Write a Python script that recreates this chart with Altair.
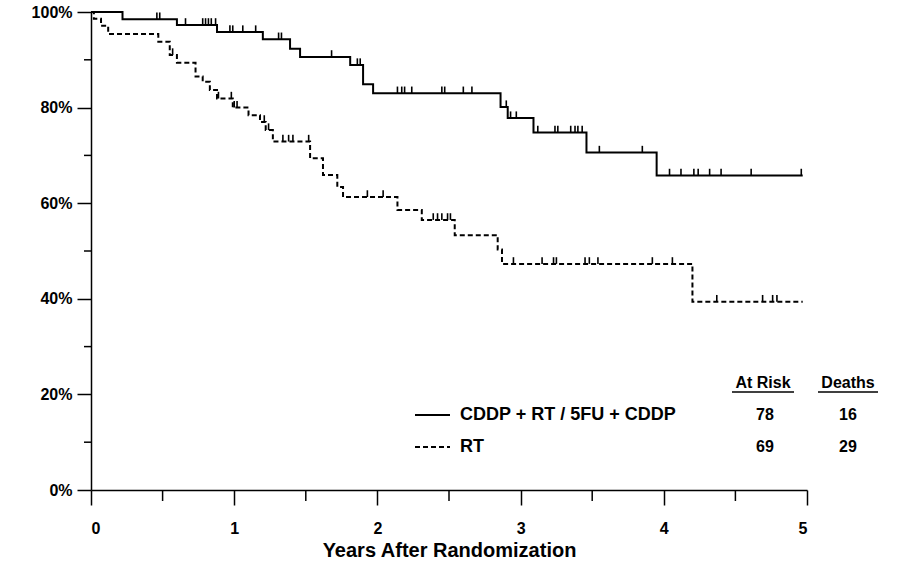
import altair as alt
import pandas as pd

# ---- Data ----
# Arm A: CDDP + RT / 5FU + CDDP  (step times in years, survival %)
a_t = [0.00, 0.22, 0.60, 0.88, 1.20, 1.39, 1.46, 1.81, 1.90, 1.97, 2.86, 2.91, 3.09, 3.46, 3.95, 4.97]
a_s = [100.0, 98.5, 97.3, 95.8, 94.3, 92.3, 90.6, 88.9, 84.9, 83.0, 80.1, 77.8, 74.8, 70.6, 65.8, 65.8]
a_cens = [0.46, 0.48, 0.66, 0.78, 0.80, 0.82, 0.84, 0.87, 0.97, 0.99, 1.06, 1.15, 1.31, 1.33,
          1.68, 1.86, 1.88, 2.14, 2.17, 2.19, 2.24, 2.45, 2.47, 2.60, 2.66, 2.90, 2.93, 2.97,
          3.12, 3.24, 3.26, 3.35, 3.38, 3.40, 3.43, 3.55, 3.85, 4.04, 4.12, 4.21, 4.24, 4.32,
          4.40, 4.61, 4.96]

# Arm B: RT
b_t = [0.00, 0.02, 0.07, 0.12, 0.47, 0.55, 0.60, 0.73, 0.78, 0.83, 0.88, 0.99, 1.10, 1.18, 1.22,
       1.27, 1.53, 1.62, 1.72, 1.76, 2.14, 2.31, 2.54, 2.84, 2.87, 4.20, 4.97]
b_s = [100.0, 98.6, 97.1, 95.4, 93.8, 91.0, 89.4, 86.5, 85.4, 83.7, 81.9, 80.0, 78.4, 77.0, 75.3,
       72.9, 69.4, 65.9, 63.4, 61.3, 58.6, 56.5, 53.3, 50.3, 47.3, 39.4, 39.4]
b_cens = [0.57, 0.89, 0.98, 1.00, 1.02, 1.21, 1.24, 1.34, 1.38, 1.41, 1.52, 1.93, 2.04, 2.39,
          2.42, 2.45, 2.49, 2.51, 2.95, 3.15, 3.23, 3.25, 3.45, 3.48, 3.54, 3.92, 4.06, 4.37,
          4.69, 4.76, 4.79]

arm_labels = ["CDDP + RT / 5FU + CDDP", "RT"]
at_risk = ["78", "69"]
deaths = ["16", "29"]
header_labels = ["At Risk", "Deaths"]

x_major = [0, 1, 2, 3, 4, 5]
x_minor = [0.5, 1.5, 2.5, 3.5, 4.5]
y_major = [0, 0.2, 0.4, 0.6, 0.8, 1.0]
y_minor = [0.1, 0.3, 0.5, 0.7, 0.9]
x_title = "Years After Randomization"


def surv_at(ts, ss, t):
    v = ss[0]
    for ti, si in zip(ts, ss):
        if ti <= t:
            v = si
    return v


curve_a = pd.DataFrame({"t": a_t, "S": [s / 100 for s in a_s]})
curve_b = pd.DataFrame({"t": b_t, "S": [s / 100 for s in b_s]})
cens_a = pd.DataFrame({"t": a_cens, "S": [surv_at(a_t, a_s, t) / 100 for t in a_cens]})
cens_b = pd.DataFrame({"t": b_cens, "S": [surv_at(b_t, b_s, t) / 100 for t in b_cens]})

FONT = "Liberation Sans"
xs = alt.Scale(domain=[0, 5], nice=False, zero=False)
ys = alt.Scale(domain=[0, 1], nice=False)

X = alt.X("t:Q", scale=xs,
          axis=alt.Axis(values=x_major, format="d", title=x_title, grid=False,
                        tickSize=15, tickWidth=1.5, tickColor="black",
                        domainColor="black", domainWidth=1.5,
                        labelFont=FONT, labelFontSize=16, labelFontWeight="bold",
                        labelColor="black", labelPadding=15,
                        titleFont=FONT, titleFontSize=20, titleFontWeight="bold",
                        titleColor="black", titlePadding=4))
Y = alt.Y("S:Q", scale=ys,
          axis=alt.Axis(values=y_major, format=".0%", title=None, grid=False,
                        tickSize=14, tickWidth=1.5, tickColor="black",
                        domainColor="black", domainWidth=1.5,
                        labelFont=FONT, labelFontSize=16, labelFontWeight="bold",
                        labelColor="black", labelPadding=5))

line_a = alt.Chart(curve_a).mark_line(interpolate="step-after", color="black", strokeWidth=2).encode(x=X, y=Y)
line_b = alt.Chart(curve_b).mark_line(interpolate="step-after", color="black", strokeWidth=2,
                                      strokeDash=[5, 3]).encode(x=X, y=Y)

tick_shape = "M0,-1L0,0"
ticks_a = alt.Chart(cens_a).mark_point(shape=tick_shape, size=180, filled=False, color="black",
                                       strokeWidth=1.6, opacity=1).encode(
    x=alt.X("t:Q", scale=xs), y=alt.Y("S:Q", scale=ys))
ticks_b = alt.Chart(cens_b).mark_point(shape=tick_shape, size=180, filled=False, color="black",
                                       strokeWidth=1.6, opacity=1).encode(
    x=alt.X("t:Q", scale=xs), y=alt.Y("S:Q", scale=ys))

minor_y = alt.Chart(pd.DataFrame({"v": y_minor})).mark_rule(color="black", strokeWidth=1.5).encode(
    y=alt.Y("v:Q", scale=ys), x=alt.value(-7), x2=alt.value(0))
minor_x = alt.Chart(pd.DataFrame({"v": x_minor})).mark_rule(color="black", strokeWidth=1.5).encode(
    x=alt.X("v:Q", scale=xs), y=alt.value(478), y2=alt.value(489))

# Legend (manual, positions in plot pixels; plot origin at (91,12))
leg_df = pd.DataFrame({"label": arm_labels, "risk": at_risk, "death": deaths,
                       "row": [0, 1]})
row_y = {0: 403, 1: 435}
leg_line_a = alt.Chart(leg_df.iloc[[0]]).mark_rule(color="black", strokeWidth=2).encode(
    x=alt.value(324), x2=alt.value(359), y=alt.value(row_y[0]))
leg_line_b = alt.Chart(leg_df.iloc[[1]]).mark_rule(color="black", strokeWidth=2, strokeDash=[5, 3]).encode(
    x=alt.value(324), x2=alt.value(359), y=alt.value(row_y[1]))

leg_text_a = alt.Chart(leg_df.iloc[[0]]).mark_text(align="left", baseline="middle", font=FONT,
                                                   fontSize=18, fontWeight="bold", color="black").encode(
    text="label:N", x=alt.value(369), y=alt.value(row_y[0]))
leg_text_b = alt.Chart(leg_df.iloc[[1]]).mark_text(align="left", baseline="middle", font=FONT,
                                                   fontSize=18, fontWeight="bold", color="black").encode(
    text="label:N", x=alt.value(369), y=alt.value(row_y[1]))

num_layers = []
for i in range(2):
    sub = leg_df.iloc[[i]]
    num_layers.append(alt.Chart(sub).mark_text(align="center", baseline="middle", font=FONT,
                                               fontSize=16, fontWeight="bold", color="black").encode(
        text="risk:N", x=alt.value(674), y=alt.value(row_y[i])))
    num_layers.append(alt.Chart(sub).mark_text(align="center", baseline="middle", font=FONT,
                                               fontSize=16, fontWeight="bold", color="black").encode(
        text="death:N", x=alt.value(757), y=alt.value(row_y[i])))

hdr_df = pd.DataFrame({"h": header_labels})
hdr_x = [672, 757]
hdr_w = [62, 60]
hdr_layers = []
for i in range(2):
    sub = hdr_df.iloc[[i]]
    hdr_layers.append(alt.Chart(sub).mark_text(align="center", baseline="middle", font=FONT,
                                               fontSize=16, fontWeight="bold", color="black").encode(
        text="h:N", x=alt.value(hdr_x[i]), y=alt.value(371)))
    hdr_layers.append(alt.Chart(sub).mark_rule(color="black", strokeWidth=1.5).encode(
        x=alt.value(hdr_x[i] - hdr_w[i] / 2), x2=alt.value(hdr_x[i] + hdr_w[i] / 2), y=alt.value(380)))

chart = alt.layer(
    line_a, line_b, ticks_a, ticks_b, minor_y, minor_x,
    leg_line_a, leg_line_b, leg_text_a, leg_text_b, *num_layers, *hdr_layers
).properties(
    width=716, height=478,
    autosize=alt.AutoSizeParams(type="none"),
    padding={"left": 91, "top": 12, "right": 95, "bottom": 77},
    background="white",
).configure_view(stroke=None)

chart.save("out.html", embed_options={"renderer": "svg", "actions": False})
